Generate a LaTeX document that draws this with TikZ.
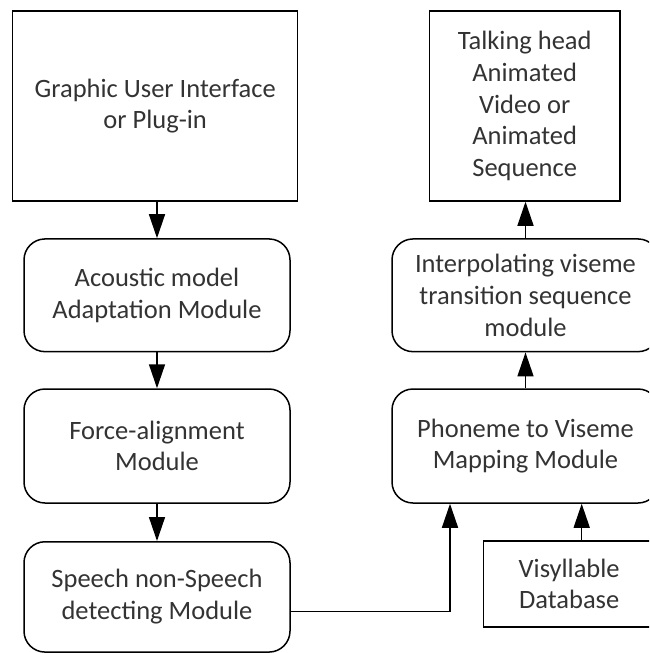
\documentclass[tikz,border=0pt]{standalone}
\usepackage{fontspec}
\setmainfont{Carlito}
\usetikzlibrary{arrows.meta,calc}
\begin{document}
\begin{tikzpicture}[x=1pt,y=-1pt,
  box/.style={draw, line width=1.5pt, inner sep=0pt, align=center, text=black!80,
              font=\fontsize{26.5}{31.7}\selectfont},
  sqbox/.style={box},
  rbox/.style={box, rounded corners=21pt},
  link/.style={line width=1.5pt, -{Triangle[length=24pt,width=16pt]}}]
\useasboundingbox (0,0) rectangle (649,653);
\clip (0,0) rectangle (649,653);

% left column
\node[sqbox, minimum width=285pt, minimum height=190pt] (gui) at (155.2,106)
  {Graphic User Interface\\or Plug-in};
\node[rbox, minimum width=266pt, minimum height=112.7pt] (acm) at (157,295.3)
  {Acoustic model\\Adaptation Module};
\node[rbox, minimum width=266pt, minimum height=114pt] (fam) at (157,446)
  {Force-alignment\\Module};
\node[rbox, minimum width=266pt, minimum height=110.3pt] (snd) at (157,596.9)
  {Speech non-Speech\\detecting Module};

% right column
\node[sqbox, minimum width=190.7pt, minimum height=190pt] (talk) at (524.7,106)
  {Talking head\\Animated\\Video or\\Animated\\Sequence};
\node[rbox, minimum width=267pt, minimum height=112.7pt] (ivt) at (525.5,295.3)
  {Interpolating viseme\\transition sequence\\module};
\node[rbox, minimum width=267pt, minimum height=114pt] (pvm) at (525.5,446)
  {Phoneme to Viseme\\Mapping Module};
\node[sqbox, minimum width=171.7pt, minimum height=85.7pt] (vis) at (569.2,583.9)
  {Visyllable\\Database};

% connectors
\draw[link] (gui.south -| acm.north) -- (acm.north);
\draw[link] (acm) -- (fam);
\draw[link] (fam) -- (snd);
\draw[link] (ivt.north) -- (ivt.north |- talk.south);
\draw[link] (pvm) -- (ivt);
\coordinate (jn) at (450,611.7);
\draw[link] (snd.east |- jn) -- (jn) -- (jn |- pvm.south);
\draw[link] ([xshift=12.5pt]vis.north) -- ([xshift=12.5pt]vis.north |- pvm.south);
\end{tikzpicture}
\end{document}
